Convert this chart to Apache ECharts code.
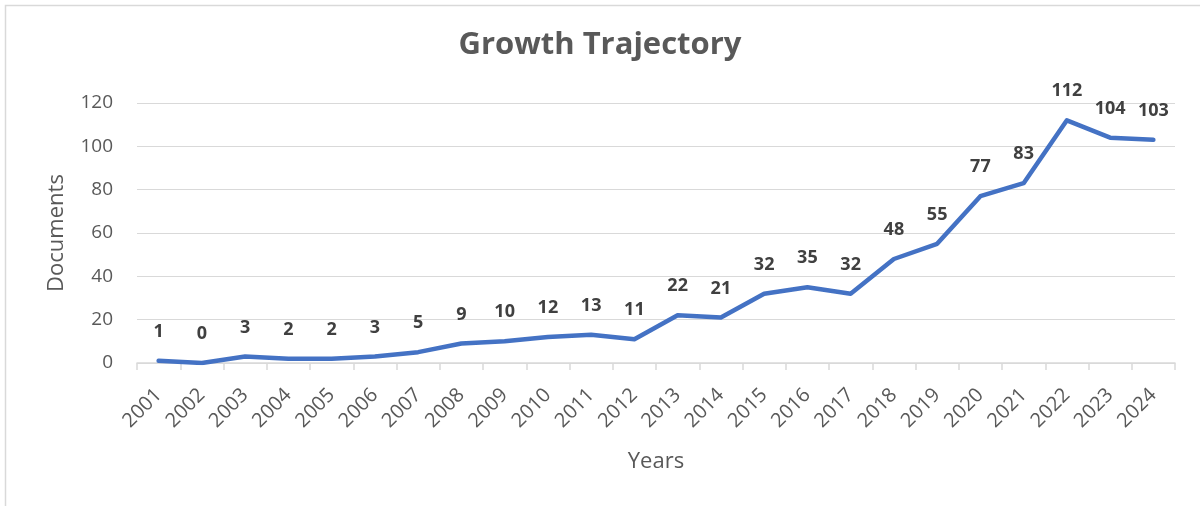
<!DOCTYPE html>
<html>
<head>
<meta charset="utf-8">
<script src="https://cdn.jsdelivr.net/npm/echarts@6/dist/echarts.min.js"></script>
<style>
html,body{margin:0;padding:0;background:#fff;}
#chart{width:1200px;height:506px;}
</style>
</head>
<body>
<div id="chart"></div>
<script>
const years = ['2001','2002','2003','2004','2005','2006','2007','2008','2009','2010','2011','2012','2013','2014','2015','2016','2017','2018','2019','2020','2021','2022','2023','2024'];
const documents = [1,0,3,2,2,3,5,9,10,12,13,11,22,21,32,35,32,48,55,77,83,112,104,103];
const yTicks = [0,20,40,60,80,100,120];

const chart = echarts.init(document.getElementById('chart'), null, {renderer:'canvas'});
const font = 'Open Sans';
chart.setOption({
  animation:false,
  backgroundColor:'#fff',
  graphic:[{type:'rect',shape:{x:5.5,y:5.5,width:1210,height:520},style:{fill:'none',stroke:'#d9d9d9',lineWidth:1.5},silent:true}],
  title:{text:'Growth Trajectory',left:'center',top:25,textStyle:{fontFamily:font,fontSize:31,fontWeight:'bold',color:'#595959'}},
  grid:{left:137,right:25,top:103,bottom:143,containLabel:false},
  xAxis:{type:'category',data:years,boundaryGap:true,
    name:'Years',nameLocation:'middle',nameGap:88,
    nameTextStyle:{fontFamily:font,fontSize:22,color:'#595959'},
    axisLine:{lineStyle:{color:'#d9d9d9',width:1.5}},
    axisTick:{show:true,alignWithLabel:false,length:7,lineStyle:{color:'#d9d9d9',width:1.5}},
    axisLabel:{rotate:45,fontFamily:font,fontSize:20,color:'#595959',margin:29,interval:0}},
  yAxis:{type:'value',min:0,max:120,interval:20,
    name:'Documents',nameLocation:'middle',nameGap:69,nameRotate:90,
    nameTextStyle:{fontFamily:font,fontSize:22,color:'#595959'},
    axisLine:{show:false},axisTick:{show:false},
    splitLine:{lineStyle:{color:'#d9d9d9',width:1.2}},
    axisLabel:{fontFamily:font,fontSize:19,color:'#595959',margin:24,
      formatter:v=>yTicks.includes(v)?String(v):''}},
  series:[{type:'line',data:documents,symbol:'circle',symbolSize:2,showSymbol:true,
    itemStyle:{color:'rgba(0,0,0,0)',borderWidth:0},
    lineStyle:{color:'#4472C4',width:4.5,cap:'round',join:'round'},
    labelLayout:{hideOverlap:false},
    label:{show:true,position:'top',distance:19,fontFamily:font,fontSize:18,fontWeight:'bold',color:'#404040'}}]
});
</script>
</body>
</html>
